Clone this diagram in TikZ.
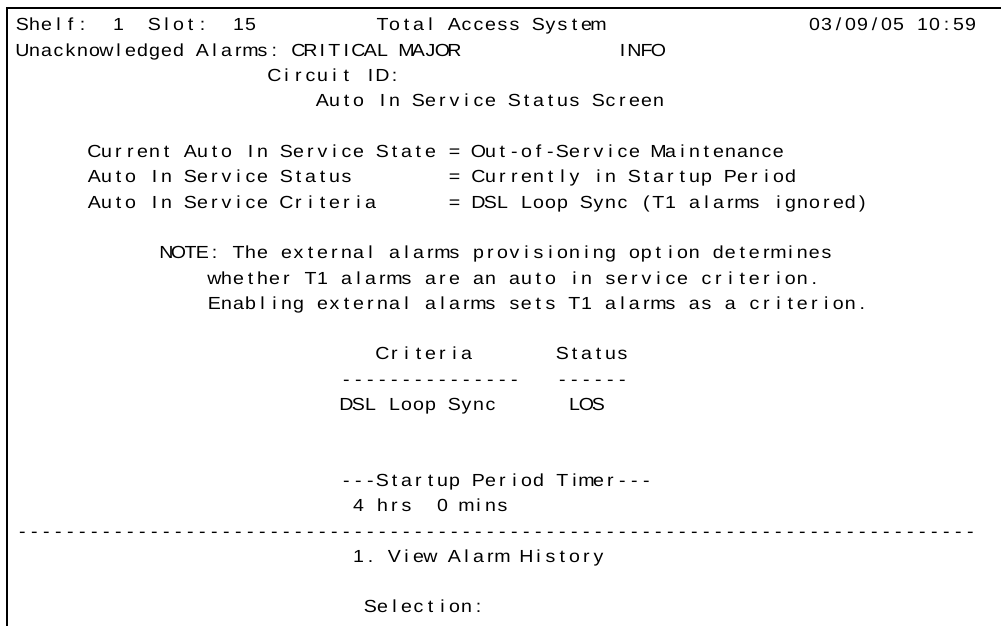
\documentclass[tikz,border=0pt]{standalone}
\usepackage{fontspec}
\setmainfont{Liberation Sans}
\newfontfamily\termfont{Liberation Sans}[FakeStretch=1.12]

% every character sits in a fixed-width cell, like a terminal
\newlength\cellw
\setlength\cellw{12pt}
\ExplSyntaxOn
\NewDocumentCommand\termline{m}
  {
    \str_map_inline:nn {#1} { \makebox[\cellw][c]{##1} }
  }
\ExplSyntaxOff

\tikzset{
  term/.style={anchor=base west, inner sep=0pt, outer sep=0pt,
               font=\termfont\fontsize{17.5}{20}\selectfont},
  frame/.style={line width=2pt, line cap=rect}
}

% \seg{name}{column}{row}{text}
\newcommand\seg[4]{%
  \node[term] (#1) at ({16.5+12*#2},{-(31+25.3*#3)}) {\termline{#4}};}

\begin{document}
\begin{tikzpicture}[x=1pt,y=1pt]
\useasboundingbox (0,0) rectangle (1001,-626);
\fill[white] (0,0) rectangle (1001,-626);

% screen frame (top and left edges)
\coordinate (fbl) at (7,-626);
\coordinate (ftl) at (7,-8);
\coordinate (ftr) at (1001,-8);
\draw[frame] (fbl) -- (ftl) -- (ftr);

% header
\seg{shelf}{0}{0}{Shelf:}
\seg{shelfno}{8}{0}{1}
\seg{slot}{11}{0}{Slot:}
\seg{slotno}{18}{0}{15}
\seg{title}{30}{0}{Total Access System}
\seg{stamp}{66}{0}{03/09/05 10:59}
\seg{alarms}{0}{1}{Unacknowledged Alarms: CRITICAL MAJOR}
\seg{info}{50}{1}{INFO}
\seg{circuit}{21}{2}{Circuit ID:}
\seg{screen}{25}{3}{Auto In Service Status Screen}

% state block
\seg{state}{6}{5}{Current Auto In Service State = Out-of-Service Maintenance}
\seg{statusk}{6}{6}{Auto In Service Status}
\seg{statusv}{36}{6}{= Currently in Startup Period}
\seg{critk}{6}{7}{Auto In Service Criteria}
\seg{critv}{36}{7}{= DSL Loop Sync (T1 alarms ignored)}

% note
\seg{note}{12}{9}{NOTE: The external alarms provisioning option determines}
\seg{noteb}{16}{10}{whether T1 alarms are an auto in service criterion.}
\seg{notec}{16}{11}{Enabling external alarms sets T1 alarms as a criterion.}

% criteria table
\seg{crithead}{30}{13}{Criteria}
\seg{stathead}{45}{13}{Status}
\seg{critrule}{27}{14}{---------------}
\seg{statrule}{45}{14}{------}
\seg{critrow}{27}{15}{DSL Loop Sync}
\seg{statrow}{46}{15}{LOS}

% timer
\seg{timer}{27}{18}{---Startup Period Timer---}
\seg{hrs}{28}{19}{4 hrs}
\seg{mins}{35}{19}{0 mins}

% menu
\seg{rule}{0}{20}{--------------------------------------------------------------------------------}
\seg{itemno}{28}{21}{1.}
\seg{item}{31}{21}{View Alarm History}
\seg{select}{29}{23}{Selection:}
\end{tikzpicture}
\end{document}
